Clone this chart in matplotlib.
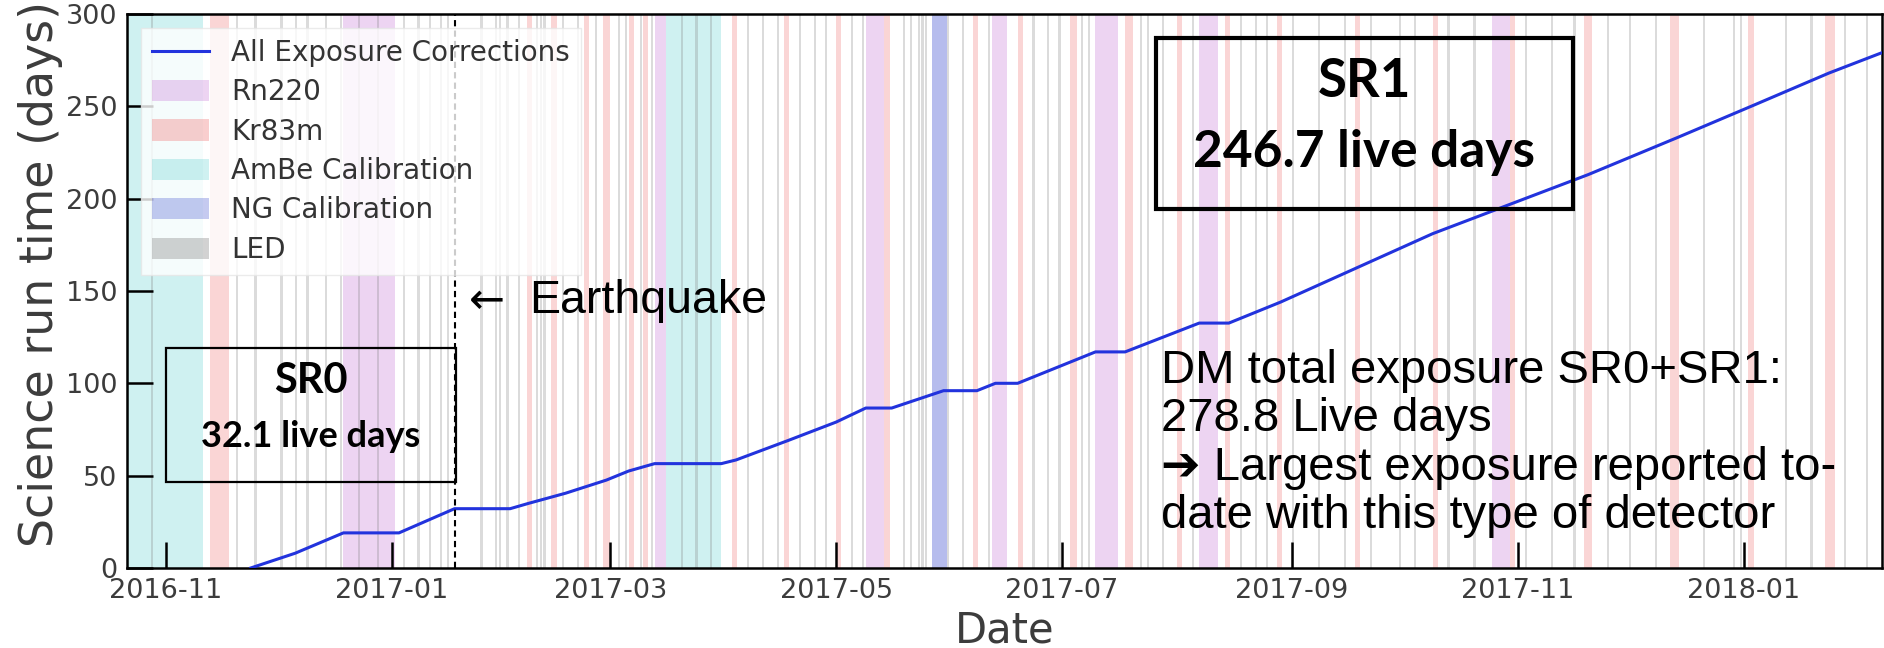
import numpy as np
import pandas as pd
import matplotlib
matplotlib.use("Agg")
import matplotlib.pyplot as plt
import matplotlib.dates as mdates
from matplotlib.patches import Patch, Rectangle
from matplotlib.lines import Line2D

# curva de exposicion acumulada (dias vivos)
fechas = ["2016-11-24", "2016-12-06", "2016-12-19", "2017-01-03", "2017-01-18",
          "2017-02-02", "2017-02-07", "2017-02-17", "2017-02-28", "2017-03-06",
          "2017-03-13", "2017-03-31", "2017-04-04", "2017-04-18", "2017-05-01",
          "2017-05-09", "2017-05-16", "2017-05-30", "2017-06-08", "2017-06-13",
          "2017-06-19", "2017-07-10", "2017-07-18", "2017-08-07", "2017-08-15",
          "2017-08-29", "2017-10-09", "2017-11-20", "2017-12-14", "2018-01-03",
          "2018-01-24", "2018-02-07"]
dias_vivos = [0, 8, 19, 19, 32.1,
              32.1, 35, 40.5, 47.6, 52.5,
              56.5, 56.5, 58.5, 69, 79,
              86.6, 86.6, 96, 96, 100,
              100, 117, 117, 132.6, 132.6,
              144, 181, 213, 233, 250,
              268, 278.8]

# calibraciones
rn220 = [("2016-12-19", "2017-01-02"), ("2017-03-13", "2017-03-16"),
         ("2017-05-09", "2017-05-14"), ("2017-06-12", "2017-06-16"),
         ("2017-07-10", "2017-07-16"), ("2017-08-07", "2017-08-12"),
         ("2017-10-25", "2017-10-30")]
kr83m = [("2016-11-13", "2016-11-18"), ("2017-02-06 12:00", "2017-02-08"),
         ("2017-02-13", "2017-02-14 16:00"), ("2017-02-22", "2017-02-23 08:00"),
         ("2017-02-27", "2017-03-01"), ("2017-03-06", "2017-03-07 08:00"),
         ("2017-03-10", "2017-03-11 08:00"), ("2017-04-03", "2017-04-04 08:00"),
         ("2017-04-17", "2017-04-18 08:00"), ("2017-05-01", "2017-05-02 08:00"),
         ("2017-05-14", "2017-05-15 12:00"), ("2017-06-07", "2017-06-08 08:00"),
         ("2017-06-19", "2017-06-20 08:00"), ("2017-07-03", "2017-07-05"),
         ("2017-07-18", "2017-07-20"), ("2017-08-01", "2017-08-02 08:00"),
         ("2017-08-14", "2017-08-15 08:00"), ("2017-08-28", "2017-08-29 08:00"),
         ("2017-09-18", "2017-09-19 08:00"), ("2017-10-09", "2017-10-10 08:00"),
         ("2017-10-30", "2017-10-31 08:00"), ("2017-11-19", "2017-11-21"),
         ("2017-12-12", "2017-12-14 12:00"), ("2018-01-02", "2018-01-03 20:00"),
         ("2018-01-23", "2018-01-25 12:00")]
ambe = [("2016-10-10", "2016-11-11"), ("2017-03-16", "2017-03-31")]
ng = [("2017-05-27", "2017-05-31")]
led = ["2016-10-28", "2016-11-20", "2016-11-25", "2016-12-02", "2016-12-06",
       "2016-12-09", "2016-12-14", "2016-12-18", "2016-12-23", "2016-12-28",
       "2017-01-04", "2017-01-08", "2017-01-11", "2017-01-14", "2017-01-16",
       "2017-01-25", "2017-01-29", "2017-01-30", "2017-02-01", "2017-02-04",
       "2017-02-09", "2017-02-10", "2017-02-11", "2017-02-16", "2017-02-20",
       "2017-02-25", "2017-03-03", "2017-03-05", "2017-03-09", "2017-03-12",
       "2017-03-20", "2017-03-24", "2017-03-28", "2017-04-07", "2017-04-11",
       "2017-04-15", "2017-04-21", "2017-04-25", "2017-04-28", "2017-05-05",
       "2017-05-08", "2017-05-19", "2017-05-21", "2017-05-23", "2017-05-24",
       "2017-05-25", "2017-05-31",
       "2017-06-04", "2017-06-11", "2017-06-23", "2017-06-27", "2017-06-30",
       "2017-07-06", "2017-07-08", "2017-07-22", "2017-07-24", "2017-07-28",
       "2017-08-05", "2017-08-18", "2017-08-22", "2017-08-25", "2017-09-01",
       "2017-09-08", "2017-09-15", "2017-09-22", "2017-09-30", "2017-10-04",
       "2017-10-13", "2017-10-20", "2017-11-03", "2017-11-10", "2017-11-16",
       "2017-11-25", "2017-12-01", "2017-12-08", "2017-12-21", "2017-12-29",
       "2017-12-31", "2018-01-12", "2018-01-19", "2018-01-28", "2018-02-03"]
terremoto = "2017-01-18"
limites_x = ("2016-10-21 14:00", "2018-02-07 08:00")

texto_dm = ["DM total exposure SR0+SR1:",
            "278.8 Live days",
            "\u2794 Largest exposure reported to-",
            "date with this type of detector"]

# colores
c_rn, a_rn = "#c060d0", 0.27
c_kr, a_kr = "#f08080", 0.33
c_am, a_am = "#40c8c8", 0.25
c_ng, a_ng = "#4050d0", 0.38
c_led, a_led = "gray", 0.28
ancho_led = pd.Timedelta(hours=14)
azul = "#2233dd"
gris = "#3c3c3c"
sans = ["Liberation Sans", "DejaVu Sans"]

fig = plt.figure(figsize=(18.84, 6.48), dpi=100)
ax = fig.add_axes([0.0674, 0.1235, 0.9316, 0.855])

def bandas(lista, color, alpha):
    for a, b in lista:
        ax.axvspan(pd.Timestamp(a), pd.Timestamp(b), color=color, alpha=alpha, lw=0, zorder=1)

bandas(ambe, c_am, a_am)
bandas(rn220, c_rn, a_rn)
bandas(kr83m, c_kr, a_kr)
bandas(ng, c_ng, a_ng)
for d in led:
    t = pd.Timestamp(d)
    ax.axvspan(t, t + ancho_led, color=c_led, alpha=a_led, lw=0, zorder=1)

ax.plot(pd.to_datetime(fechas), dias_vivos, color=azul, lw=2.2, zorder=3)
ax.axvline(pd.Timestamp(terremoto), color="k", ls=(0, (3, 2)), lw=1.5, zorder=4)

ax.set_xlim(pd.Timestamp(limites_x[0]), pd.Timestamp(limites_x[1]))
ax.set_ylim(0, 300)
ax.set_yticks(np.arange(0, 301, 50))
ax.xaxis.set_major_locator(mdates.MonthLocator(bymonth=[1, 3, 5, 7, 9, 11]))
ax.xaxis.set_major_formatter(mdates.DateFormatter("%Y-%m"))
ax.tick_params(axis="both", direction="in", length=19, width=1.8, labelsize=19.5,
               labelcolor=gris, pad=7)
ax.tick_params(top=False, right=False)
for s in ax.spines.values():
    s.set_linewidth(1.8)

ax.set_xlabel("Date", fontsize=30, color=gris, labelpad=4)
ax.set_ylabel("Science run time (days)", fontsize=33, color=gris, labelpad=2, y=0.53)

# leyenda
handles = [Line2D([], [], color=azul, lw=2.2),
           Patch(facecolor=c_rn, alpha=a_rn, lw=0),
           Patch(facecolor=c_kr, alpha=a_kr + 0.05, lw=0),
           Patch(facecolor=c_am, alpha=a_am, lw=0),
           Patch(facecolor=c_ng, alpha=0.3, lw=0),
           Patch(facecolor=c_led, alpha=0.35, lw=0)]
labels = ["All Exposure Corrections", "Rn220", "Kr83m", "AmBe Calibration",
          "NG Calibration", "LED"]
leg = ax.legend(handles, labels, loc="upper left", fontsize=20, handlelength=2.05,
                handleheight=0.8, handletextpad=0.8, labelspacing=0.41,
                borderaxespad=0.5, framealpha=0.8, fancybox=False)
leg.get_frame().set_edgecolor("#e6e6e6")
for t in leg.get_texts():
    t.set_color("#333333")
leg.set_zorder(5)

# cajas SR0 / SR1
ax.add_patch(Rectangle((0.0225, 0.155), 0.165, 0.242, transform=ax.transAxes,
                       fill=False, ec="k", lw=1.6, zorder=6))
ax.text(0.1048, 0.316, "SR0", transform=ax.transAxes, ha="center", va="baseline",
        fontsize=30, fontweight="bold", family="Lato", zorder=7)
ax.text(0.1048, 0.218, "32.1 live days", transform=ax.transAxes, ha="center",
        va="baseline", fontsize=26, fontweight="bold", family="Lato", zorder=7)

ax.add_patch(Rectangle((0.5863, 0.648), 0.2376, 0.3087, transform=ax.transAxes,
                       fill=False, ec="k", lw=3, zorder=6))
ax.text(0.705, 0.850, "SR1", transform=ax.transAxes, ha="center", va="baseline",
        fontsize=38, fontweight="bold", family="Lato", zorder=7)
ax.text(0.705, 0.724, "246.7 live days", transform=ax.transAxes, ha="center",
        va="baseline", fontsize=37, fontweight="bold", family="Lato", zorder=7)

ax.text(0.1949, 0.4603, "\u2190", transform=ax.transAxes, ha="left",
        va="baseline", fontsize=31, family="DejaVu Sans", zorder=7)
ax.text(0.229, 0.4603, "Earthquake", transform=ax.transAxes, ha="left",
        va="baseline", fontsize=33.5, family=sans, zorder=7)

for i, linea in enumerate(texto_dm):
    ax.text(0.589, 0.334 - i * 0.0872, linea, transform=ax.transAxes, ha="left",
            va="baseline", fontsize=34, family=sans, zorder=7)

fig.savefig("out.png", dpi=100)
